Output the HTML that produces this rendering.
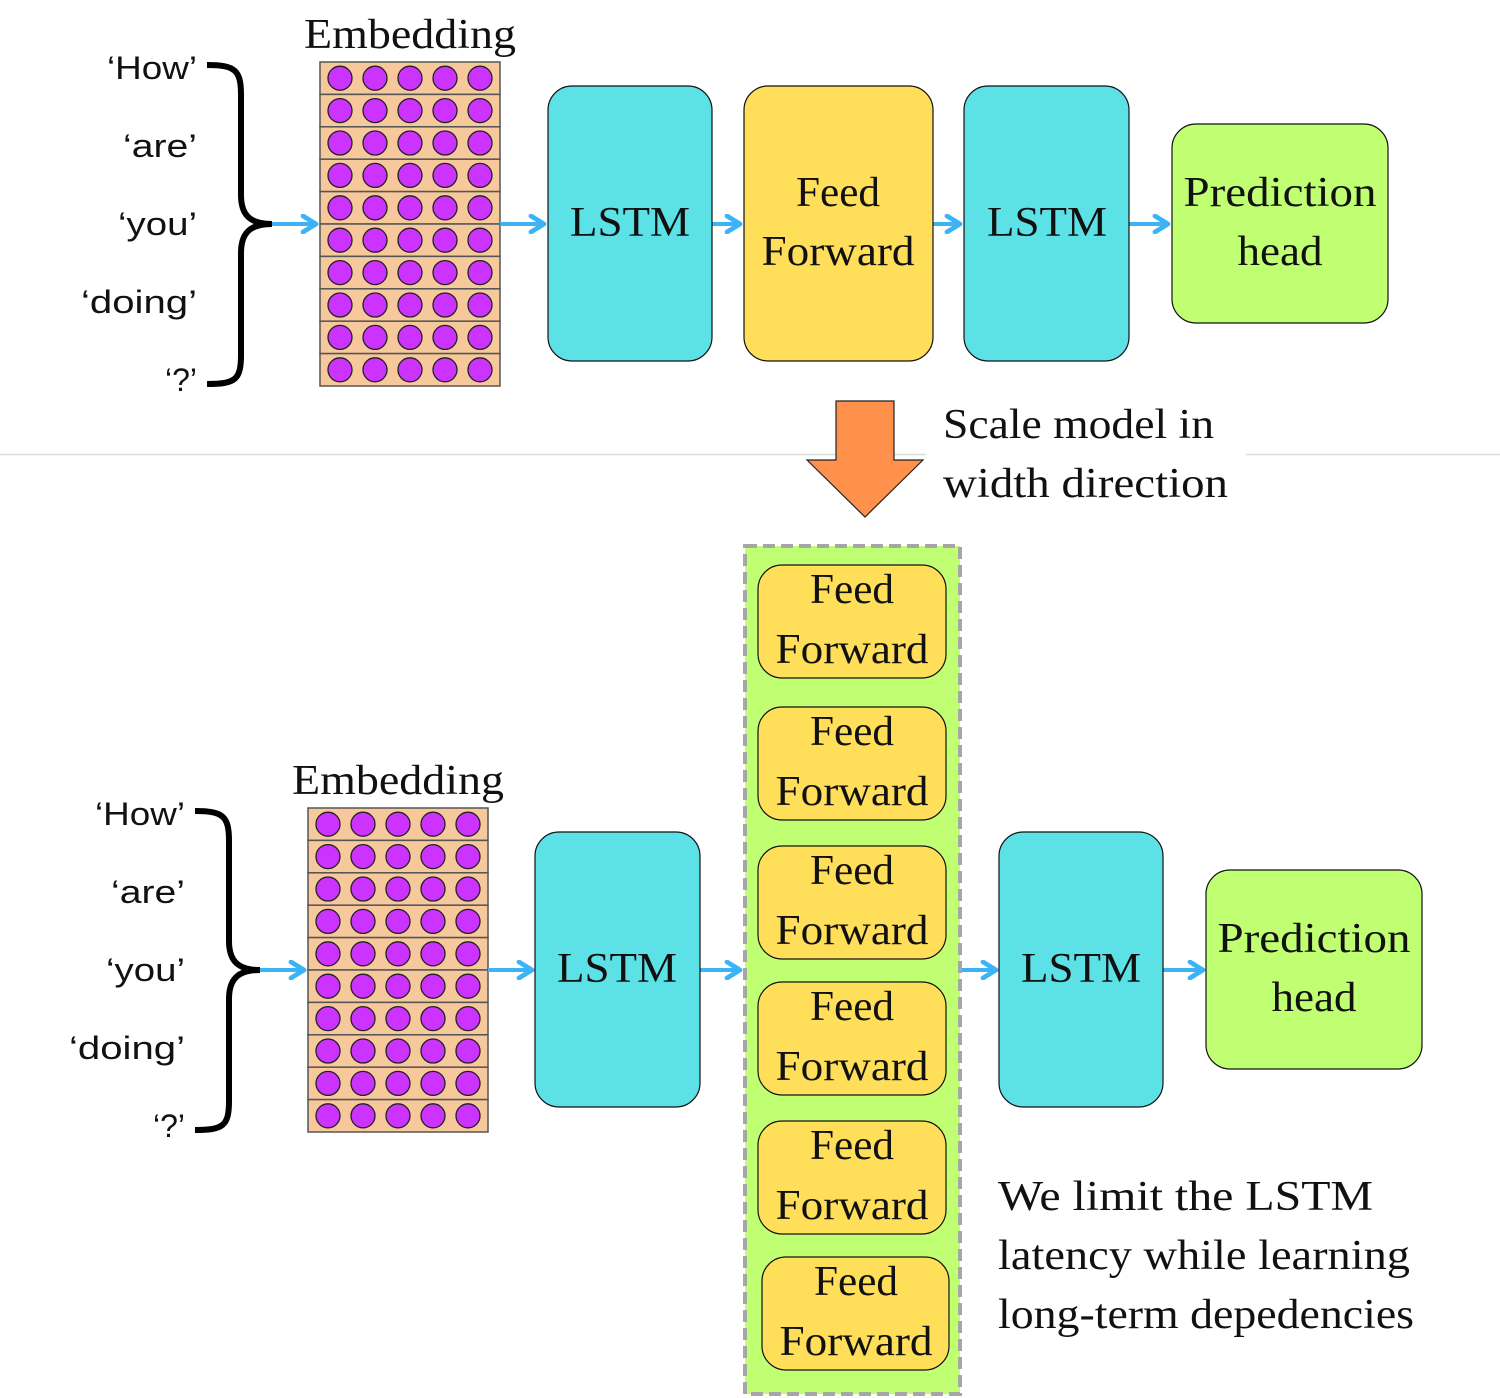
<!DOCTYPE html>
<html><head><style>
html,body{margin:0;padding:0;background:#fff}
svg{display:block}
.s{font-family:"Liberation Serif",serif;font-size:42px;fill:#111}
.w{font-family:"Liberation Sans",sans-serif;font-size:32px;fill:#111}
</style></head><body>
<svg width="1500" height="1398" viewBox="0 0 1500 1398" xmlns="http://www.w3.org/2000/svg">
<defs>
<g id="row">
<rect x="0" y="0" width="180" height="32.4" fill="#f7c89b" stroke="#555" stroke-width="1.5"/>
<circle cx="20" cy="16.2" r="12" fill="#cc33ff" stroke="#222" stroke-width="1.3"/>
<circle cx="55" cy="16.2" r="12" fill="#cc33ff" stroke="#222" stroke-width="1.3"/>
<circle cx="90" cy="16.2" r="12" fill="#cc33ff" stroke="#222" stroke-width="1.3"/>
<circle cx="125" cy="16.2" r="12" fill="#cc33ff" stroke="#222" stroke-width="1.3"/>
<circle cx="160" cy="16.2" r="12" fill="#cc33ff" stroke="#222" stroke-width="1.3"/>
</g>
<g id="emb">
<use href="#row" y="0"/><use href="#row" y="32.4"/><use href="#row" y="64.8"/><use href="#row" y="97.2"/><use href="#row" y="129.6"/>
<use href="#row" y="162"/><use href="#row" y="194.4"/><use href="#row" y="226.8"/><use href="#row" y="259.2"/><use href="#row" y="291.6"/>
</g>
<marker id="ah" viewBox="0 0 10 10" refX="8" refY="5" markerWidth="5" markerHeight="5" orient="auto">
<path d="M1.5,1 L8,5 L1.5,9" fill="none" stroke="#3bb3f5" stroke-width="2.4" stroke-linecap="round" stroke-linejoin="round"/>
</marker>
</defs>

<line x1="0" y1="454.5" x2="926" y2="454.5" stroke="#ddd" stroke-width="1.5"/>
<line x1="1246" y1="454.5" x2="1500" y2="454.5" stroke="#ddd" stroke-width="1.5"/>

<!-- TOP -->
<g class="w" text-anchor="end">
<text class="w" x="197" y="79" text-anchor="end" textLength="90" lengthAdjust="spacingAndGlyphs">‘How’</text>
<text class="w" x="197" y="157" text-anchor="end" textLength="74" lengthAdjust="spacingAndGlyphs">‘are’</text>
<text class="w" x="197" y="235" text-anchor="end" textLength="79" lengthAdjust="spacingAndGlyphs">‘you’</text>
<text class="w" x="197" y="313" text-anchor="end" textLength="116" lengthAdjust="spacingAndGlyphs">‘doing’</text>
<text class="w" x="197" y="391" text-anchor="end" textLength="32" lengthAdjust="spacingAndGlyphs">‘?’</text>
</g>
<path d="M207,65 C235,65 241,70 241,95 L241,195 C241,215 250,224 272,224 C250,224 241,233 241,253 L241,355 C241,380 235,384 207,384" fill="none" stroke="#000" stroke-width="6"/>
<text class="s" x="410" y="48" text-anchor="middle" textLength="212" lengthAdjust="spacingAndGlyphs">Embedding</text>
<use href="#emb" x="320" y="62"/>
<g stroke="#3bb3f5" stroke-width="4" marker-end="url(#ah)">
<line x1="272" y1="224" x2="316" y2="224"/>
<line x1="500" y1="224" x2="544" y2="224"/>
<line x1="712" y1="224" x2="740" y2="224"/>
<line x1="933" y1="224" x2="960" y2="224"/>
<line x1="1129" y1="224" x2="1168" y2="224"/>
</g>
<rect x="548" y="86" width="164" height="275" rx="24" fill="#5ce1e6" stroke="#111" stroke-width="1.2"/>
<text class="s" x="630" y="236" text-anchor="middle" textLength="120" lengthAdjust="spacingAndGlyphs">LSTM</text>
<rect x="744" y="86" width="189" height="275" rx="24" fill="#ffde59" stroke="#111" stroke-width="1.2"/>
<text class="s" x="838" y="206" text-anchor="middle" textLength="84" lengthAdjust="spacingAndGlyphs">Feed</text>
<text class="s" x="838" y="265" text-anchor="middle" textLength="153" lengthAdjust="spacingAndGlyphs">Forward</text>
<rect x="964" y="86" width="165" height="275" rx="24" fill="#5ce1e6" stroke="#111" stroke-width="1.2"/>
<text class="s" x="1047" y="236" text-anchor="middle" textLength="120" lengthAdjust="spacingAndGlyphs">LSTM</text>
<rect x="1172" y="124" width="216" height="199" rx="24" fill="#c1ff72" stroke="#111" stroke-width="1.2"/>
<text class="s" x="1280" y="206" text-anchor="middle" textLength="193" lengthAdjust="spacingAndGlyphs">Prediction</text>
<text class="s" x="1280" y="265" text-anchor="middle" textLength="85" lengthAdjust="spacingAndGlyphs">head</text>

<path d="M836,401 L894,401 L894,460 L923,460 L865,517 L807,460 L836,460 Z" fill="#ff914d" stroke="#222" stroke-width="1.2"/>
<text class="s" x="943" y="438" textLength="271" lengthAdjust="spacingAndGlyphs">Scale model in</text>
<text class="s" x="943" y="497" textLength="285" lengthAdjust="spacingAndGlyphs">width direction</text>

<!-- BOTTOM -->
<text class="w" x="185" y="825" text-anchor="end" textLength="90" lengthAdjust="spacingAndGlyphs">‘How’</text>
<text class="w" x="185" y="903" text-anchor="end" textLength="74" lengthAdjust="spacingAndGlyphs">‘are’</text>
<text class="w" x="185" y="981" text-anchor="end" textLength="79" lengthAdjust="spacingAndGlyphs">‘you’</text>
<text class="w" x="185" y="1059" text-anchor="end" textLength="116" lengthAdjust="spacingAndGlyphs">‘doing’</text>
<text class="w" x="185" y="1137" text-anchor="end" textLength="32" lengthAdjust="spacingAndGlyphs">‘?’</text>
<path d="M195,811 C223,811 229,816 229,841 L229,941 C229,961 238,970 260,970 C238,970 229,979 229,999 L229,1101 C229,1126 223,1130 195,1130" fill="none" stroke="#000" stroke-width="6"/>
<text class="s" x="398" y="794" text-anchor="middle" textLength="212" lengthAdjust="spacingAndGlyphs">Embedding</text>
<use href="#emb" x="308" y="808"/>
<g stroke="#3bb3f5" stroke-width="4" marker-end="url(#ah)">
<line x1="260" y1="970" x2="304" y2="970"/>
<line x1="488" y1="970" x2="532" y2="970"/>
<line x1="700" y1="970" x2="740" y2="970"/>
<line x1="961" y1="970" x2="996" y2="970"/>
<line x1="1163" y1="970" x2="1203" y2="970"/>
</g>
<rect x="535" y="832" width="165" height="275" rx="24" fill="#5ce1e6" stroke="#111" stroke-width="1.2"/>
<text class="s" x="617" y="982" text-anchor="middle" textLength="120" lengthAdjust="spacingAndGlyphs">LSTM</text>

<rect x="745" y="546" width="215" height="848" fill="#c1ff72" stroke="#a6a6a6" stroke-width="4" stroke-dasharray="12,6"/>
<g fill="#ffde59" stroke="#111" stroke-width="1.2">
<rect x="758" y="565" width="188" height="113" rx="24"/>
<rect x="758" y="707" width="188" height="113" rx="24"/>
<rect x="758" y="846" width="188" height="113" rx="24"/>
<rect x="758" y="982" width="188" height="113" rx="24"/>
<rect x="758" y="1121" width="188" height="113" rx="24"/>
<rect x="762" y="1257" width="187" height="113" rx="24"/>
</g>
<text class="s" x="852" y="603" text-anchor="middle" textLength="84" lengthAdjust="spacingAndGlyphs">Feed</text>
<text class="s" x="852" y="663" text-anchor="middle" textLength="153" lengthAdjust="spacingAndGlyphs">Forward</text>
<text class="s" x="852" y="745" text-anchor="middle" textLength="84" lengthAdjust="spacingAndGlyphs">Feed</text>
<text class="s" x="852" y="805" text-anchor="middle" textLength="153" lengthAdjust="spacingAndGlyphs">Forward</text>
<text class="s" x="852" y="884" text-anchor="middle" textLength="84" lengthAdjust="spacingAndGlyphs">Feed</text>
<text class="s" x="852" y="944" text-anchor="middle" textLength="153" lengthAdjust="spacingAndGlyphs">Forward</text>
<text class="s" x="852" y="1020" text-anchor="middle" textLength="84" lengthAdjust="spacingAndGlyphs">Feed</text>
<text class="s" x="852" y="1080" text-anchor="middle" textLength="153" lengthAdjust="spacingAndGlyphs">Forward</text>
<text class="s" x="852" y="1159" text-anchor="middle" textLength="84" lengthAdjust="spacingAndGlyphs">Feed</text>
<text class="s" x="852" y="1219" text-anchor="middle" textLength="153" lengthAdjust="spacingAndGlyphs">Forward</text>
<text class="s" x="856" y="1295" text-anchor="middle" textLength="84" lengthAdjust="spacingAndGlyphs">Feed</text>
<text class="s" x="856" y="1355" text-anchor="middle" textLength="153" lengthAdjust="spacingAndGlyphs">Forward</text>

<rect x="999" y="832" width="164" height="275" rx="24" fill="#5ce1e6" stroke="#111" stroke-width="1.2"/>
<text class="s" x="1081" y="982" text-anchor="middle" textLength="120" lengthAdjust="spacingAndGlyphs">LSTM</text>
<rect x="1206" y="870" width="216" height="199" rx="24" fill="#c1ff72" stroke="#111" stroke-width="1.2"/>
<text class="s" x="1314" y="952" text-anchor="middle" textLength="193" lengthAdjust="spacingAndGlyphs">Prediction</text>
<text class="s" x="1314" y="1011" text-anchor="middle" textLength="85" lengthAdjust="spacingAndGlyphs">head</text>

<text class="s" x="998" y="1210" textLength="375" lengthAdjust="spacingAndGlyphs">We limit the LSTM</text>
<text class="s" x="998" y="1269" textLength="412" lengthAdjust="spacingAndGlyphs">latency while learning</text>
<text class="s" x="998" y="1328" textLength="416" lengthAdjust="spacingAndGlyphs">long-term depedencies</text>
</svg>
</body></html>
